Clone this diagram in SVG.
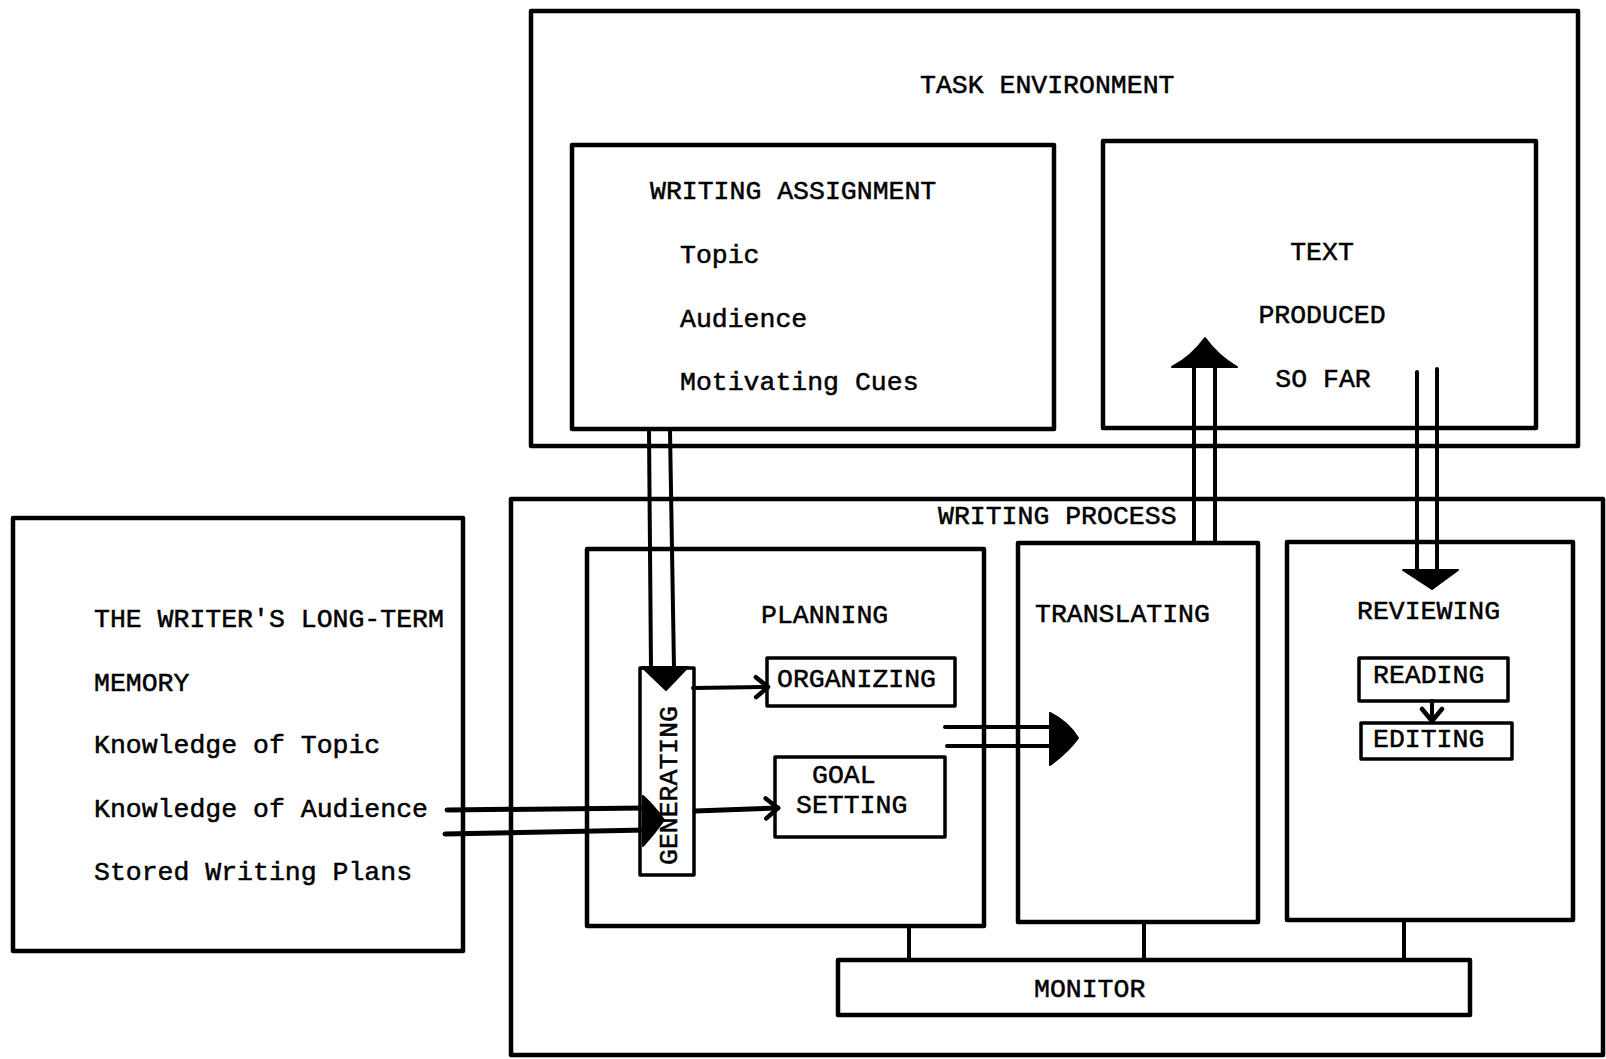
<svg xmlns="http://www.w3.org/2000/svg" width="1606" height="1059" viewBox="0 0 1606 1059">
<style>
  .box { fill: none; stroke: #000; stroke-width: 4.5; stroke-linejoin: round; }
  .sbox { fill: none; stroke: #000; stroke-width: 3.5; stroke-linejoin: round; }
  .t { font-family: "Liberation Mono", "Courier New", monospace; font-size: 26.5px; fill: #000; stroke: #000; stroke-width: 0.5; }
  .ln { stroke: #000; stroke-width: 4; fill: none; stroke-linecap: round; }
  .lnb { stroke: #000; stroke-width: 5; fill: none; stroke-linecap: round; }
  .head { fill: #000; stroke: #000; stroke-width: 2; stroke-linejoin: round; }
</style>
<defs>
  <marker id="chev" viewBox="0 0 18 26" refX="15" refY="13" markerWidth="18" markerHeight="26" markerUnits="userSpaceOnUse" orient="auto">
    <path d="M3,3 L15,13 L3,23" fill="none" stroke="#000" stroke-width="4.5" stroke-linecap="round" stroke-linejoin="round"/>
  </marker>
</defs>
<rect width="1606" height="1059" fill="#fff"/>

<g id="task-environment">
  <rect class="box" x="531" y="11" width="1047" height="435"/>
  <text class="t" x="920" y="93">TASK ENVIRONMENT</text>
</g>
<g id="writing-assignment">
  <rect class="box" x="572" y="145" width="482" height="284"/>
  <text class="t" x="650" y="199">WRITING ASSIGNMENT</text>
  <text class="t" x="680" y="263">Topic</text>
  <text class="t" x="680" y="327">Audience</text>
  <text class="t" x="680" y="390">Motivating Cues</text>
</g>
<g id="text-produced">
  <rect class="box" x="1103" y="141" width="433" height="287"/>
  <text class="t" x="1322" y="260" text-anchor="middle">TEXT</text>
  <text class="t" x="1322" y="323" text-anchor="middle">PRODUCED</text>
  <text class="t" x="1323" y="387" text-anchor="middle">SO FAR</text>
</g>
<g id="writing-process">
  <rect class="box" x="511" y="499" width="1092" height="556"/>
  <text class="t" x="938" y="524">WRITING PROCESS</text>
</g>
<g id="long-term-memory">
  <rect class="box" x="13" y="518" width="450" height="433"/>
  <text class="t" x="94" y="627">THE WRITER'S LONG-TERM</text>
  <text class="t" x="94" y="691">MEMORY</text>
  <text class="t" x="94" y="753">Knowledge of Topic</text>
  <text class="t" x="94" y="817">Knowledge of Audience</text>
  <text class="t" x="94" y="880">Stored Writing Plans</text>
</g>
<g id="planning">
  <rect class="box" x="587" y="549" width="397" height="377"/>
  <text class="t" x="761" y="623">PLANNING</text>
</g>
<g id="generating">
  <rect class="sbox" x="640" y="668" width="54" height="207"/>
  <text class="t" transform="translate(677,865) rotate(-90)" x="0" y="0">GENERATING</text>
</g>
<g id="organizing">
  <rect class="sbox" x="767" y="658" width="188" height="48"/>
  <text class="t" x="777" y="687">ORGANIZING</text>
</g>
<g id="goal-setting">
  <rect class="sbox" x="775" y="757" width="170" height="80"/>
  <text class="t" x="812" y="783">GOAL</text>
  <text class="t" x="796" y="813">SETTING</text>
</g>
<g id="translating">
  <rect class="box" x="1018" y="543" width="240" height="379"/>
  <text class="t" x="1035" y="622">TRANSLATING</text>
</g>
<g id="reviewing">
  <rect class="box" x="1287" y="542" width="286" height="378"/>
  <text class="t" x="1357" y="619">REVIEWING</text>
</g>
<g id="reading">
  <rect class="sbox" x="1359" y="658" width="149" height="43"/>
  <text class="t" x="1373" y="683">READING</text>
</g>
<g id="editing">
  <rect class="sbox" x="1361" y="723" width="151" height="36"/>
  <text class="t" x="1373" y="747">EDITING</text>
</g>
<g id="monitor">
  <rect class="box" x="838" y="960" width="632" height="55"/>
  <text class="t" x="1034" y="997">MONITOR</text>
</g>

<g id="connectors">
  <!-- writing assignment to generating -->
  <line class="ln" x1="649" y1="431" x2="651" y2="668"/>
  <line class="ln" x1="670" y1="431" x2="674" y2="668"/>
  <polygon class="head" points="642,667 688,667 666,690"/>
  <!-- long-term memory to generating -->
  <line class="lnb" x1="447" y1="810" x2="646" y2="808"/>
  <line class="lnb" x1="445" y1="834" x2="646" y2="830"/>
  <path class="head" d="M643,796 Q654,806 664,820 Q654,834 643,846 Z"/>
  <!-- generating to organizing / goal setting -->
  <line class="ln" x1="693" y1="688" x2="768" y2="687" marker-end="url(#chev)"/>
  <line class="lnb" x1="695" y1="811" x2="778" y2="808" marker-end="url(#chev)"/>
  <!-- planning to translating -->
  <line class="ln" x1="945" y1="727" x2="1052" y2="727"/>
  <line class="ln" x1="947" y1="746" x2="1052" y2="746"/>
  <path class="head" d="M1050,713 Q1068,722 1078,738 Q1068,752 1050,765 Z"/>
  <!-- translating to text produced -->
  <line class="ln" x1="1194" y1="543" x2="1194" y2="366"/>
  <line class="ln" x1="1215" y1="543" x2="1215" y2="366"/>
  <path class="head" d="M1172,367 Q1192,356 1205,338 Q1218,356 1237,367 Z"/>
  <!-- text produced to reviewing -->
  <line class="ln" x1="1417" y1="372" x2="1417" y2="571"/>
  <line class="ln" x1="1437" y1="369" x2="1437" y2="571"/>
  <polygon class="head" points="1403,570 1458,570 1432,589"/>
  <!-- reading to editing -->
  <line class="ln" x1="1432" y1="701" x2="1432" y2="721" marker-end="url(#chev)"/>
  <!-- monitor links -->
  <line class="ln" x1="909" y1="927" x2="909" y2="960"/>
  <line class="ln" x1="1144" y1="922" x2="1144" y2="960"/>
  <line class="ln" x1="1404" y1="920" x2="1404" y2="960"/>
</g>
</svg>
